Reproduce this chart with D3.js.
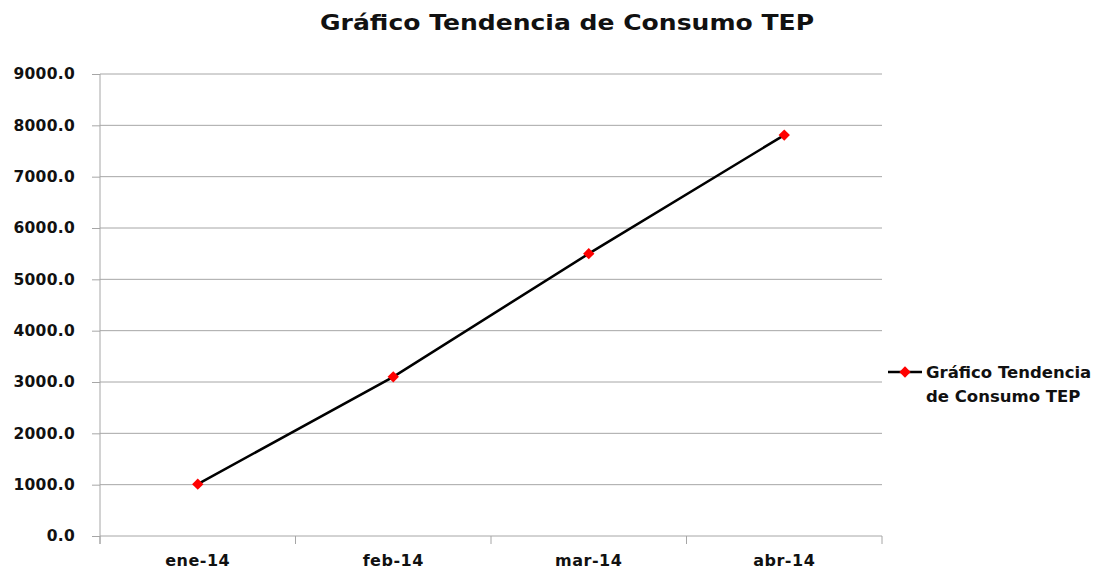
<!DOCTYPE html>
<html>
<head>
<meta charset="UTF-8">
<title>Gráfico Tendencia de Consumo TEP</title>
<script src="https://cdn.jsdelivr.net/npm/d3@7"></script>
<style>
  body { margin: 0; background: #fff; }
  text { font-family: "DejaVu Sans", "Open Sans", sans-serif; font-weight: bold; fill: #111; }
</style>
</head>
<body>
<script>
// data
var months = ["ene-14", "feb-14", "mar-14", "abr-14"];
var consumo = [1010, 3100, 5500, 7810];
var yTicks = [0, 1000, 2000, 3000, 4000, 5000, 6000, 7000, 8000, 9000];
var seriesName = ["Gráfico Tendencia", "de Consumo TEP"];

var width = 1110, height = 569;
var plotL = 100, plotR = 882, plotT = 74, plotB = 536;

var svg = d3.select("body").append("svg")
    .attr("width", width)
    .attr("height", height);

var x = d3.scaleBand().domain(months).range([plotL, plotR]);
var y = d3.scaleLinear().domain([0, 9000]).range([plotB, plotT]);

// title
svg.append("text")
   .attr("x", 567).attr("y", 30)
   .attr("text-anchor", "middle")
   .attr("textLength", 494)
   .attr("lengthAdjust", "spacingAndGlyphs")
   .style("font-size", "22px")
   .text("Gráfico Tendencia de Consumo TEP");

// gridlines
svg.selectAll(".grid").data(yTicks.slice(1)).enter().append("line")
   .attr("x1", plotL).attr("x2", plotR)
   .attr("y1", function (d) { return y(d); })
   .attr("y2", function (d) { return y(d); })
   .attr("stroke", "#a6a6a6").attr("stroke-width", 1);

// y axis
var yAxis = d3.axisLeft(y).tickValues(yTicks).tickSize(8).tickPadding(17)
    .tickFormat(d3.format(".1f"));
var gy = svg.append("g").attr("transform", "translate(" + plotL + ",0)").call(yAxis);
gy.select(".domain").attr("stroke", "#a6a6a6").attr("d", "M0," + plotT + "V" + (plotB + 8));
gy.selectAll(".tick line").attr("stroke", "#a6a6a6");
gy.selectAll("text").style("font-size", "15.5px").style("letter-spacing", "0.3px")
  .style("font-family", null).attr("fill", null);

// x axis
var gx = svg.append("g").attr("transform", "translate(0," + plotB + ")");
gx.append("line").attr("x1", plotL).attr("x2", plotR).attr("stroke", "#a6a6a6");
var bounds = months.map(function (m) { return x(m); }).concat([plotR]);
gx.selectAll(".xt").data(bounds).enter().append("line")
  .attr("x1", function (d) { return d; }).attr("x2", function (d) { return d; })
  .attr("y1", 0).attr("y2", 8).attr("stroke", "#a6a6a6");
gx.selectAll(".xl").data(months).enter().append("text")
  .attr("x", function (d) { return x(d) + x.bandwidth() / 2; })
  .attr("y", 30)
  .attr("text-anchor", "middle")
  .style("font-size", "16px")
  .style("letter-spacing", "0.5px")
  .text(function (d) { return d; });

// line
var line = d3.line()
    .x(function (d, i) { return x(months[i]) + x.bandwidth() / 2; })
    .y(function (d) { return y(d); });
svg.append("path").datum(consumo)
   .attr("d", line).attr("fill", "none")
   .attr("stroke", "#000").attr("stroke-width", 2.5);

var diamond = d3.symbol().type(d3.symbolSquare).size(64);
svg.selectAll(".pt").data(consumo).enter().append("path")
   .attr("d", diamond)
   .attr("transform", function (d, i) {
     return "translate(" + (x(months[i]) + x.bandwidth() / 2) + "," + y(d) + ") rotate(45)";
   })
   .attr("fill", "#ff0000");

// legend
var lg = svg.append("g").attr("transform", "translate(888,372)");
lg.append("line").attr("x1", 0).attr("x2", 34).attr("stroke", "#000").attr("stroke-width", 2.5);
lg.append("path").attr("d", diamond).attr("transform", "translate(17,0) rotate(45)").attr("fill", "#ff0000");
lg.selectAll("text").data(seriesName).enter().append("text")
  .attr("x", 38)
  .attr("y", function (d, i) { return 6 + i * 24; })
  .style("font-size", "16.5px")
  .text(function (d) { return d; });
</script>
</body>
</html>
